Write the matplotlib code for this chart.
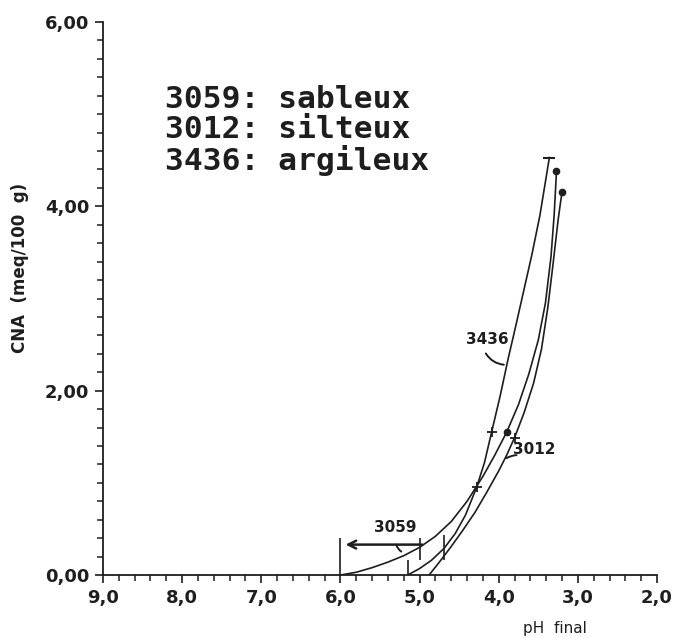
import numpy as np
import matplotlib
matplotlib.use("Agg")
import matplotlib.pyplot as plt
from matplotlib.ticker import MultipleLocator, FuncFormatter

# Data (pH final, CNA meq/100 g)
ph_3059 = [6.0, 5.8, 5.6, 5.4, 5.2, 5.0, 4.8, 4.6, 4.4, 4.2, 4.05, 3.90, 3.75, 3.62, 3.50,
           3.41, 3.34, 3.30, 3.27]
cna_3059 = [0.0, 0.03, 0.08, 0.14, 0.21, 0.30, 0.42, 0.58, 0.80, 1.07, 1.30, 1.55, 1.85, 2.18, 2.55,
            2.95, 3.45, 3.90, 4.38]

ph_3012 = [4.88, 4.75, 4.6, 4.45, 4.3, 4.15, 4.0, 3.90, 3.80, 3.68, 3.56, 3.46, 3.38, 3.31, 3.25, 3.20]
cna_3012 = [0.0, 0.14, 0.31, 0.49, 0.68, 0.90, 1.13, 1.30, 1.49, 1.76, 2.08, 2.45, 2.90, 3.40, 3.85, 4.16]

ph_3436 = [5.15, 5.0, 4.85, 4.69, 4.55, 4.42, 4.28, 4.18, 4.09, 3.98, 3.88, 3.78, 3.68, 3.58, 3.48, 3.36]
cna_3436 = [0.0, 0.07, 0.16, 0.29, 0.45, 0.65, 0.95, 1.22, 1.55, 1.95, 2.35, 2.72, 3.10, 3.48, 3.90, 4.53]

# measured points (markers)
dot_ph, dot_cna = [3.90, 3.27, 3.20], [1.55, 4.38, 4.16]
plus_ph, plus_cna = [3.80, 4.28, 4.09], [1.49, 0.95, 1.55]
end_3436_ph, end_3436_cna = [3.36], [4.53]

# vertical range bars near the origin
bar_ph = [6.0, 5.0, 5.15, 4.69]
bar_lo = [0.0, 0.16, 0.0, 0.16]
bar_hi = [0.40, 0.40, 0.16, 0.43]

legend_lines = ["3059: sableux", "3012: silteux", "3436: argileux"]

ink = "#1e1e1e"

fig = plt.figure(figsize=(6.74, 6.38), dpi=100)
ax = fig.add_axes([0.1528, 0.0987, 0.822, 0.8668])

ax.plot(ph_3059, cna_3059, color=ink, lw=1.2)
ax.plot(ph_3012, cna_3012, color=ink, lw=1.2)
ax.plot(ph_3436, cna_3436, color=ink, lw=1.2)

ax.plot(dot_ph, dot_cna, "o", color=ink, ms=4.5)
ax.plot(plus_ph, plus_cna, "+", color=ink, ms=7, mew=1.3)
ax.plot(end_3436_ph, end_3436_cna, "_", color=ink, ms=8, mew=1.5)
ax.vlines(bar_ph, bar_lo, bar_hi, color=ink, lw=1.2)

# 3059 range arrow
ax.annotate("", xy=(5.97, 0.33), xytext=(4.93, 0.33),
            arrowprops=dict(arrowstyle="->", color=ink, lw=1.8, mutation_scale=14))
ax.text(5.31, 0.43, "3059", ha="center", va="bottom", fontsize=11, fontweight="bold", color=ink)
ax.annotate("", xy=(5.2, 0.24), xytext=(5.3, 0.36),
            arrowprops=dict(arrowstyle="-", color=ink, lw=1.4, connectionstyle="arc3,rad=0.3"))

ax.text(3.55, 1.36, "3012", ha="center", va="center", fontsize=11, fontweight="bold", color=ink)
ax.annotate("", xy=(3.93, 1.25), xytext=(3.74, 1.30),
            arrowprops=dict(arrowstyle="-", color=ink, lw=1.4, connectionstyle="arc3,rad=0.2"))

ax.text(4.14, 2.55, "3436", ha="center", va="center", fontsize=11, fontweight="bold", color=ink)
ax.annotate("", xy=(3.90, 2.28), xytext=(4.18, 2.43),
            arrowprops=dict(arrowstyle="-", color=ink, lw=1.4, connectionstyle="arc3,rad=0.3"))

for i, line in enumerate(legend_lines):
    ax.text(8.22, 5.16 - i * 0.33, line, ha="left", va="center", fontsize=22.5,
            fontweight="bold", family="DejaVu Sans Mono", color=ink)

ax.set_xlim(9.0, 2.0)
ax.set_ylim(0.0, 6.0)
ax.spines["top"].set_visible(False)
ax.spines["right"].set_visible(False)
for s in ("left", "bottom"):
    ax.spines[s].set_linewidth(1.3)
    ax.spines[s].set_color(ink)

ax.xaxis.set_major_locator(MultipleLocator(1.0))
ax.xaxis.set_minor_locator(MultipleLocator(0.2))
ax.yaxis.set_major_locator(MultipleLocator(2.0))
ax.yaxis.set_minor_locator(MultipleLocator(0.2))
ax.xaxis.set_major_formatter(FuncFormatter(lambda v, p: f"{v:.1f}".replace(".", ",")))
ax.yaxis.set_major_formatter(FuncFormatter(lambda v, p: f"{v:.2f}".replace(".", ",")))
ax.tick_params(which="major", direction="out", length=6, width=1.2, color=ink,
               labelsize=13, labelcolor=ink, pad=4)
ax.tick_params(which="minor", direction="out", length=4, width=1.1, color=ink)
for lab in ax.get_xticklabels() + ax.get_yticklabels():
    lab.set_fontweight("bold")

fig.text(555 / 674, 1 - 628 / 638, "pH  final", ha="center", va="center", fontsize=11, color=ink)
fig.text(20 / 674, 1 - 268 / 638, "CNA  (meq/100  g)", ha="center", va="center",
         rotation=90, fontsize=12, fontweight="semibold", color=ink)

fig.savefig("out.png", dpi=100)
